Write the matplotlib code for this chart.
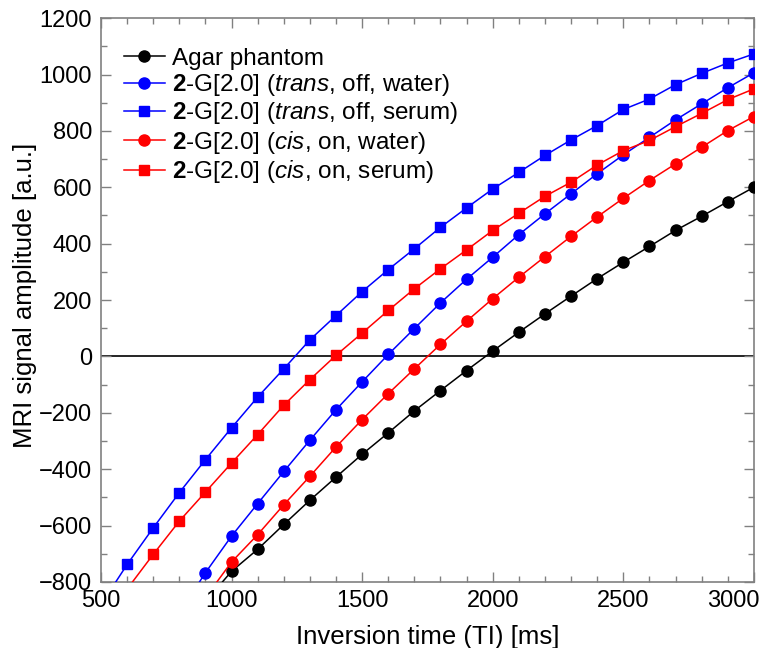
import numpy as np
import matplotlib
matplotlib.use("Agg")
import matplotlib.pyplot as plt
import matplotlib.transforms as mtransforms
from matplotlib.ticker import MultipleLocator

plt.rcParams["font.family"] = ["Liberation Sans", "DejaVu Sans"]
plt.rcParams["mathtext.fontset"] = "custom"
plt.rcParams["mathtext.rm"] = "Liberation Sans"
plt.rcParams["mathtext.it"] = "Liberation Sans:italic"
plt.rcParams["mathtext.bf"] = "Liberation Sans:bold"

# inversion times (ms); first point of each series lies below the plot range
ti_agar = [900, 1000, 1100, 1200, 1300, 1400, 1500, 1600, 1700, 1800, 1900, 2000,
           2100, 2200, 2300, 2400, 2500, 2600, 2700, 2800, 2900, 3000]
agar = [-870, -762, -684, -596, -510, -428, -347, -271, -193, -121, -50, 19,
        86, 151, 214, 276, 334, 390, 447, 497, 549, 600]

ti_trans_water = [800, 900, 1000, 1100, 1200, 1300, 1400, 1500, 1600, 1700, 1800, 1900,
                  2000, 2100, 2200, 2300, 2400, 2500, 2600, 2700, 2800, 2900, 3000]
trans_water = [-910, -767, -637, -522, -408, -297, -189, -90, 7, 99, 190, 274,
               352, 432, 506, 577, 648, 715, 777, 839, 896, 953, 1006]

ti_trans_serum = [500, 600, 700, 800, 900, 1000, 1100, 1200, 1300, 1400, 1500, 1600,
                  1700, 1800, 1900, 2000, 2100, 2200, 2300, 2400, 2500, 2600, 2700,
                  2800, 2900, 3000]
trans_serum = [-880, -738, -608, -483, -366, -253, -144, -44, 59, 145, 230, 308,
               382, 458, 527, 594, 653, 713, 768, 819, 876, 913, 964,
               1004, 1041, 1073]

ti_cis_water = [900, 1000, 1100, 1200, 1300, 1400, 1500, 1600, 1700, 1800, 1900, 2000,
                2100, 2200, 2300, 2400, 2500, 2600, 2700, 2800, 2900, 3000]
cis_water = [-855, -729, -632, -526, -425, -321, -224, -132, -44, 43, 125, 205,
             281, 354, 426, 495, 561, 624, 683, 742, 801, 851]

ti_cis_serum = [600, 700, 800, 900, 1000, 1100, 1200, 1300, 1400, 1500, 1600, 1700,
                1800, 1900, 2000, 2100, 2200, 2300, 2400, 2500, 2600, 2700, 2800,
                2900, 3000]
cis_serum = [-825, -702, -584, -481, -378, -277, -173, -82, 4, 83, 163, 240,
             311, 378, 447, 508, 568, 618, 679, 730, 766, 815, 862,
             911, 949]

labels = ["Agar phantom",
          r"$\mathbf{2}$-G[2.0] ($\mathit{trans}$, off, water)",
          r"$\mathbf{2}$-G[2.0] ($\mathit{trans}$, off, serum)",
          r"$\mathbf{2}$-G[2.0] ($\mathit{cis}$, on, water)",
          r"$\mathbf{2}$-G[2.0] ($\mathit{cis}$, on, serum)"]

series = [
    (ti_agar, agar, "black", "o"),
    (ti_trans_water, trans_water, "#0000ff", "o"),
    (ti_trans_serum, trans_serum, "#0000ff", "s"),
    (ti_cis_water, cis_water, "#ff0000", "o"),
    (ti_cis_serum, cis_serum, "#ff0000", "s"),
]

fig = plt.figure(figsize=(7.63, 6.48), dpi=100)
ax = fig.add_axes([0.1324, 0.1019, 0.8556, 0.8701])

ax.axhline(0, color="black", lw=1.2, zorder=1)

for (x, y, c, m), lab in zip(series, labels):
    y = np.array(y)
    shown = [i for i in range(len(y)) if y[i] >= -800]
    ax.plot(x, y, color=c, marker=m, markersize=8 if m == "o" else 7.5,
            lw=1.1, markevery=shown, label=lab, zorder=3)

ax.set_xlim(500, 3000)
ax.set_ylim(-800, 1200)
ax.set_xticks([500, 1000, 1500, 2000, 2500, 3000])
ax.xaxis.set_minor_locator(MultipleLocator(100))
ax.yaxis.set_major_locator(MultipleLocator(200))
ax.yaxis.set_minor_locator(MultipleLocator(100))
ax.tick_params(which="both", direction="in", top=True, right=True,
               color="#808080", labelsize=17)
ax.tick_params(axis="y", pad=6.5)
ax.tick_params(axis="x", pad=6)
ax.tick_params(which="major", length=7, width=1)
ax.tick_params(which="minor", length=4, width=1)
for s in ax.spines.values():
    s.set_color("#808080")
    s.set_linewidth(1.2)

ax.set_xlabel("Inversion time (TI) [ms]", fontsize=18.5, labelpad=9)
ax.set_ylabel("MRI signal amplitude [a.u.]", fontsize=18.5)
ax.yaxis.set_label_coords(-0.098, 0.508)

ax.legend(loc="upper left", frameon=False, fontsize=17.5, handlelength=1.7,
          handletextpad=0.3, labelspacing=0.1, borderaxespad=0.0,
          bbox_to_anchor=(0.02, 0.965))

# last x tick label sits inside the figure, as in the reference
last = ax.get_xticklabels()[-1]
last.set_horizontalalignment("right")
last.set_transform(last.get_transform() +
                   mtransforms.ScaledTranslation(6 / 100, 0, fig.dpi_scale_trans))

fig.savefig("out.png", dpi=100)
